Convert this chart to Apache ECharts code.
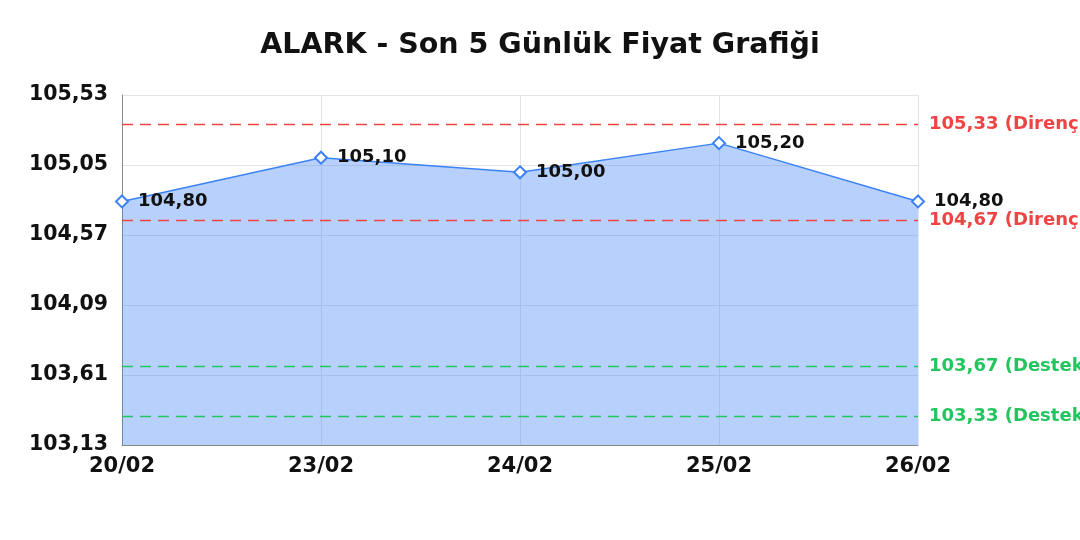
<!DOCTYPE html>
<html>
<head>
<meta charset="utf-8">
<script src="https://cdn.jsdelivr.net/npm/echarts@6/dist/echarts.min.js"></script>
<style>
  html, body { margin: 0; padding: 0; background: #fff; }
  #chart { width: 1080px; height: 540px; }
</style>
</head>
<body>
<div id="chart"></div>
<script>
const days = ["20/02", "23/02", "24/02", "25/02", "26/02"];
const prices = [104.80, 105.10, 105.00, 105.20, 104.80];
const resistance = [105.33, 104.67];
const support = [103.67, 103.33];
const yMin = 103.13;
const yMax = 105.53;
const yStep = 0.48;

const fmt = v => v.toFixed(2).replace(".", ",");
const font = "DejaVu Sans";

const chart = echarts.init(document.getElementById("chart"));

const levelLine = (v, color, word) => ({
    yAxis: v,
    lineStyle: { color: color, type: [11, 7], width: 1.3 },
    label: {
        color: color,
        formatter: fmt(v) + " (" + word + ")"
    }
});

chart.setOption({
    animation: false,
    textStyle: { fontFamily: font },
    title: {
        text: "ALARK - Son 5 Günlük Fiyat Grafiği",
        left: "center",
        top: 26,
        textStyle: { fontFamily: font, fontSize: 28.5, fontWeight: "bold", color: "#111" }
    },
    grid: { left: 122, right: 162, top: 95, bottom: 95 },
    xAxis: {
        type: "category",
        data: days,
        boundaryGap: false,
        axisLine: { lineStyle: { color: "#888" } },
        axisTick: { show: false },
        splitLine: { show: true, lineStyle: { color: "#e4e4e4" } },
        axisLabel: { fontFamily: font, fontSize: 21, fontWeight: "bold", color: "#111", margin: 11 }
    },
    yAxis: {
        type: "value",
        min: yMin,
        max: yMax,
        interval: yStep,
        axisLine: { show: true, lineStyle: { color: "#888" } },
        axisTick: { show: false },
        splitLine: { lineStyle: { color: "#e4e4e4" } },
        axisLabel: { fontFamily: font, fontSize: 20.5, fontWeight: "bold", color: "#111", margin: 14, formatter: fmt }
    },
    series: [{
        type: "line",
        data: prices,
        symbol: "diamond",
        symbolSize: 12,
        lineStyle: { color: "#3b82f6", width: 1.5 },
        itemStyle: { color: "#fff", borderColor: "#3b82f6", borderWidth: 2 },
        areaStyle: { color: "#3b82f6", opacity: 0.37 },
        label: {
            show: true,
            position: "right",
            distance: 9,
            fontFamily: font,
            fontSize: 18,
            fontWeight: "bold",
            color: "#111",
            formatter: p => fmt(p.value)
        },
        markLine: {
            silent: true,
            symbol: "none",
            label: {
                position: "end",
                distance: 11,
                fontFamily: font,
                fontSize: 18,
                fontWeight: "bold"
            },
            data: [
                ...resistance.map(v => levelLine(v, "#ef4444", "Direnç")),
                ...support.map(v => levelLine(v, "#22c55e", "Destek"))
            ]
        }
    }]
});
</script>
</body>
</html>
